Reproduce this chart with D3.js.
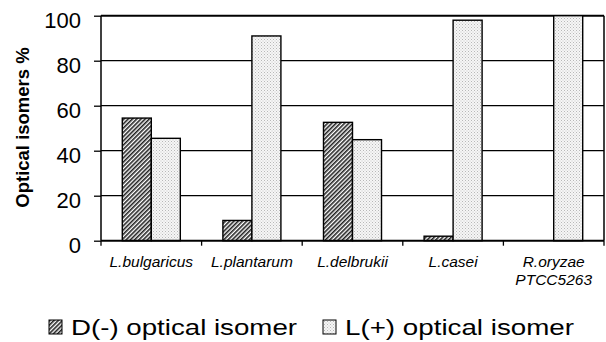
<!DOCTYPE html>
<html>
<head>
<meta charset="utf-8">
<script src="https://cdn.jsdelivr.net/npm/d3@7/dist/d3.min.js"></script>
<style>
  html, body { margin: 0; padding: 0; background: #fff; }
  svg { display: block; font-family: "Liberation Sans", Arial, sans-serif; }
</style>
</head>
<body>
<svg id="chart" width="606" height="342"></svg>
<script>
// Strains and their optical isomer shares (%)
const categories = [["L.bulgaricus"], ["L.plantarum"], ["L.delbrukii"], ["L.casei"], ["R.oryzae", "PTCC5263"]];
const seriesNames = ["D(-) optical isomer", "L(+) optical isomer"];
const dIsomer = [54.5, 9, 52.6, 2, 0];
const lIsomer = [45.5, 91, 44.9, 98, 100];
const yTicks = [0, 20, 40, 60, 80, 100];

const svg = d3.select("#chart");
const catKeys = categories.map(c => c.join(" "));

const x = d3.scaleBand().domain(catKeys).range([101, 604]).paddingInner(0).paddingOuter(0);
const x1 = d3.scaleBand().domain(seriesNames).range([0, x.bandwidth()]).paddingInner(0).paddingOuter(0.734);
const y = d3.scaleLinear().domain([0, 100]).range([240.7, 15.7]);

// fill patterns
const defs = svg.append("defs");
const hatch = defs.append("pattern").attr("id", "hatch")
  .attr("patternUnits", "userSpaceOnUse").attr("width", 3).attr("height", 3)
  .attr("patternTransform", "rotate(45)");
hatch.append("rect").attr("width", 3).attr("height", 3).attr("fill", "#fff");
hatch.append("rect").attr("width", 1.6).attr("height", 3).attr("fill", "#222");

const dots = defs.append("pattern").attr("id", "dots")
  .attr("patternUnits", "userSpaceOnUse").attr("width", 3).attr("height", 3);
dots.append("rect").attr("width", 3).attr("height", 3).attr("fill", "#f6f6f6");
dots.append("rect").attr("x", 0).attr("y", 0).attr("width", 1).attr("height", 1).attr("fill", "#b8b8b8");
dots.append("rect").attr("x", 1.5).attr("y", 1.5).attr("width", 1).attr("height", 1).attr("fill", "#c8c8c8");

const fills = ["url(#hatch)", "url(#dots)"];
const seriesValues = [dIsomer, lIsomer];

// gridlines
svg.append("g").selectAll("line").data(yTicks.filter(t => t > 0)).join("line")
  .attr("x1", 101).attr("x2", 604)
  .attr("y1", d => y(d)).attr("y2", d => y(d))
  .attr("stroke", "#000").attr("stroke-width", d => d === 100 ? 2 : 1.3);

// right border
svg.append("line").attr("x1", 604).attr("x2", 604).attr("y1", y(100)).attr("y2", y(0))
  .attr("stroke", "#000").attr("stroke-width", 1.5);

// bars
const gBars = svg.append("g");
seriesNames.forEach((s, si) => {
  gBars.selectAll(null).data(catKeys).join("rect")
    .attr("x", c => x(c) + x1(s))
    .attr("width", x1.bandwidth())
    .attr("y", (c, i) => y(seriesValues[si][i]))
    .attr("height", (c, i) => y(0) - y(seriesValues[si][i]))
    .attr("fill", fills[si])
    .attr("stroke", "#000").attr("stroke-width", 1.4)
    .attr("display", (c, i) => seriesValues[si][i] > 0 ? null : "none");
});

// y axis
const yAxis = svg.append("g").attr("transform", "translate(101,0)")
  .call(d3.axisLeft(y).tickValues(yTicks).tickSize(7).tickPadding(13));
yAxis.select(".domain").attr("stroke", "#000").attr("stroke-width", 1.5).attr("d", `M0,${y(100)}V${y(0)}`);
yAxis.selectAll(".tick line").attr("stroke", "#000").attr("stroke-width", 1.3);
yAxis.selectAll(".tick text").attr("font-size", 22).attr("fill", "#000").attr("dy", "0.55em")
  .attr("font-family", "'Liberation Sans', Arial, sans-serif");

// x axis with ticks at category boundaries
const xAxis = svg.append("g").attr("transform", `translate(0,${y(0)})`);
xAxis.append("line").attr("x1", 101).attr("x2", 604).attr("stroke", "#000").attr("stroke-width", 2);
const bounds = catKeys.map(c => x(c)).concat([x.range()[1]]);
xAxis.selectAll(".bt").data(bounds).join("line").attr("class", "bt")
  .attr("x1", d => d).attr("x2", d => d).attr("y1", 0).attr("y2", 5)
  .attr("stroke", "#000").attr("stroke-width", 1.3);

const labels = svg.append("g").attr("font-size", 15.5).attr("font-style", "italic").attr("text-anchor", "middle");
categories.forEach((lines, i) => {
  const cx = x(catKeys[i]) + x.bandwidth() / 2;
  const t = labels.append("text").attr("x", cx).attr("y", 267);
  lines.forEach((ln, j) => t.append("tspan").attr("x", cx).attr("dy", j === 0 ? 0 : 18).text(ln));
});

// y axis title
svg.append("text").attr("transform", "translate(28.5,127.5) rotate(-90)")
  .attr("text-anchor", "middle").attr("font-size", 18.5).attr("font-weight", "bold")
  .text("Optical isomers %");

// legend
const legend = svg.append("g").attr("font-size", 22);
const legendX = [49, 323];
const legendLen = [226, 229];
seriesNames.forEach((s, i) => {
  legend.append("rect").attr("x", legendX[i]).attr("y", 320).attr("width", 13).attr("height", 14)
    .attr("fill", fills[i]).attr("stroke", "#000").attr("stroke-width", 1);
  legend.append("text").attr("x", legendX[i] + 22).attr("y", 335)
    .attr("textLength", legendLen[i]).attr("lengthAdjust", "spacingAndGlyphs").text(s);
});
</script>
</body>
</html>
